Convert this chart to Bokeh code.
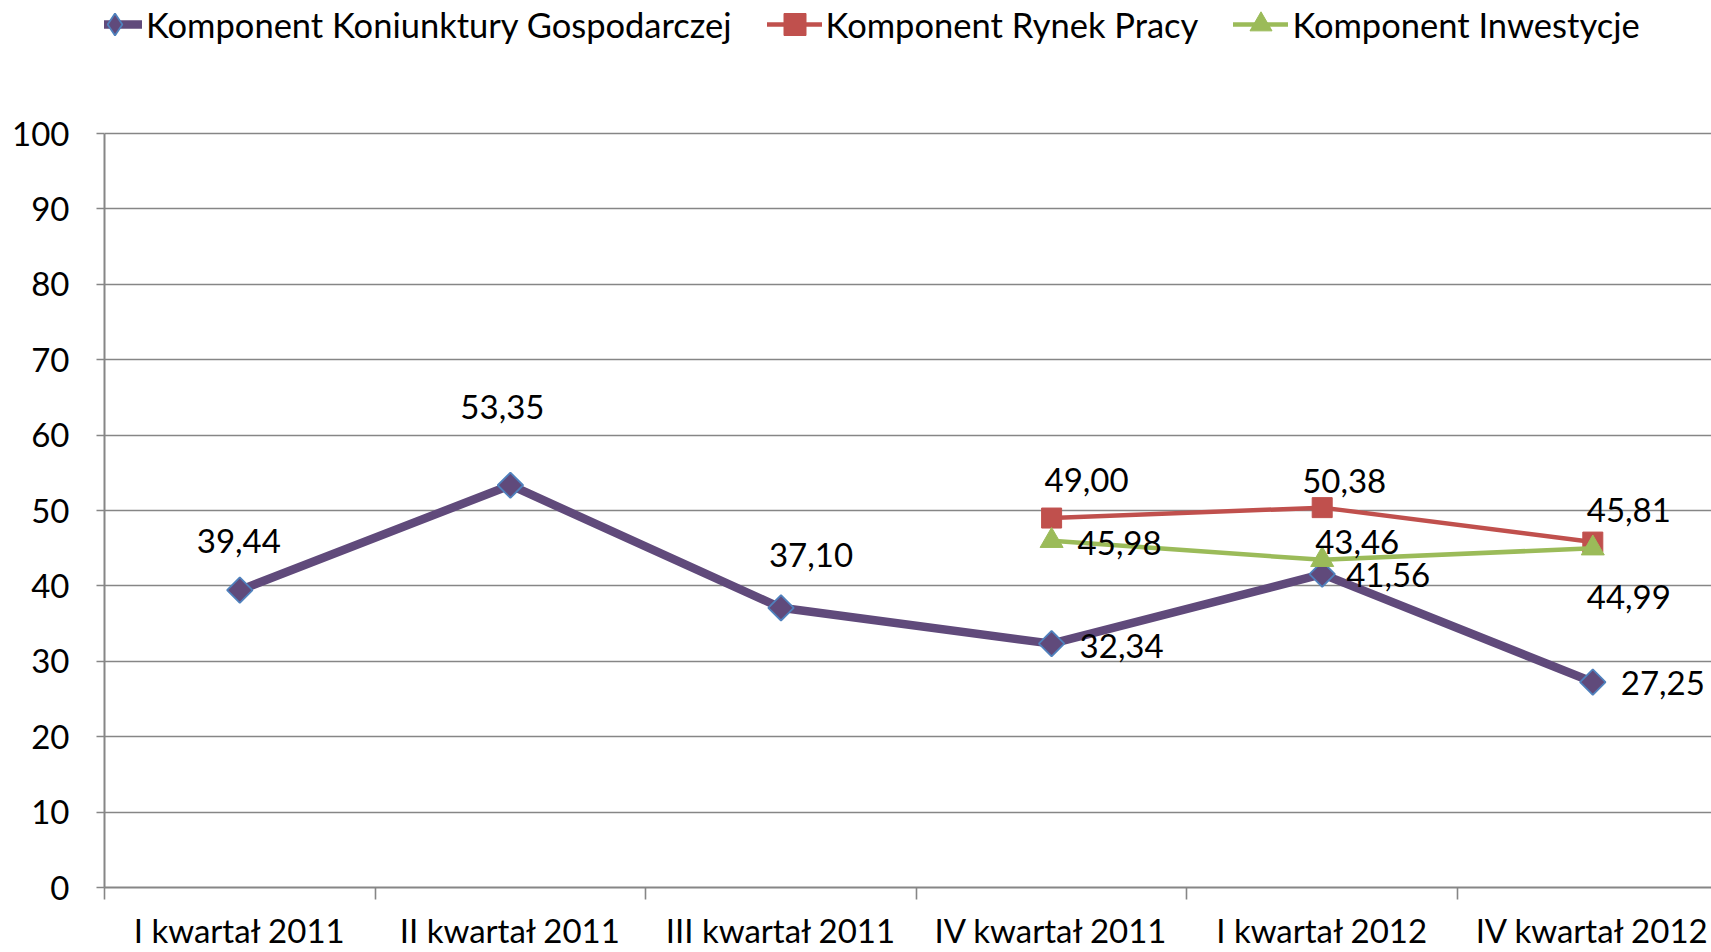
import math
from bokeh.plotting import figure
from bokeh.models import FixedTicker, Legend, LegendItem, ColumnDataSource
from bokeh.core.properties import value
from bokeh.embed import file_html
from bokeh.resources import INLINE

# ---- data ----
categories = ["I kwartał 2011", "II kwartał 2011", "III kwartał 2011",
              "IV kwartał 2011", "I kwartał 2012", "IV kwartał 2012"]
koniunktura = [39.44, 53.35, 37.10, 32.34, 41.56, 27.25]
rynek_pracy = [None, None, None, 49.00, 50.38, 45.81]
inwestycje = [None, None, None, 45.98, 43.46, 44.99]
series_names = ["Komponent Koniunktury Gospodarczej", "Komponent Rynek Pracy", "Komponent Inwestycje"]
y_ticks = [0, 10, 20, 30, 40, 50, 60, 70, 80, 90, 100]

# ---- styles ----
FONT = "Lato"
GRID = "#868686"
colors = ["#604A7B", "#C0504D", "#9BBB59"]
# label placement (screen px offsets from the point, alignment)
lab_k = dict(dx=[-1, -8, 30, 28, 24, 28], dy=[-49, -78, -53, 2, 1, 1],
             align=["center", "center", "center", "left", "left", "left"])
lab_r = dict(dx=[35, 22, 36], dy=[-38, -27, -32], align=["center", "center", "center"])
lab_i = dict(dx=[26, 35, 36], dy=[2, -18, 49], align=["left", "center", "center"])

xs = [i + 1 for i in range(len(categories))]

W, H = 1711, 952
BL, BB = 104, 65
FRAME_H = H - BB            # frame spans from the top of the page
Y_TOP_PX = 133              # pixel row of the 100 gridline
y_max = y_ticks[-1] * FRAME_H / (FRAME_H - Y_TOP_PX)

p = figure(width=W, height=H, x_range=(0.5, 0.5 + (W - BL) / 270.6), y_range=(0, y_max),
           output_backend="svg", toolbar_location=None,
           min_border_left=BL, min_border_right=0, min_border_top=0, min_border_bottom=BB)
p.outline_line_color = None
p.background_fill_color = "white"
p.border_fill_color = "white"
p.xgrid.grid_line_color = None
p.ygrid.grid_line_color = GRID
p.ygrid.grid_line_width = 1.6

# x axis
p.xaxis.ticker = FixedTicker(ticks=xs, minor_ticks=[0.5 + i for i in range(len(categories) + 1)])
p.xaxis.major_label_overrides = {x: c for x, c in zip(xs, categories)}
p.xaxis.major_tick_line_color = None
p.xaxis.major_tick_out = 0
p.xaxis.major_tick_in = 0
p.xaxis.minor_tick_line_color = GRID
p.xaxis.minor_tick_line_width = 1.6
p.xaxis.minor_tick_out = 12
p.xaxis.minor_tick_in = 0
p.xaxis.major_label_standoff = 10
p.xaxis.axis_line_color = GRID
p.xaxis.axis_line_width = 2
p.xaxis.major_label_text_font = FONT
p.xaxis.major_label_text_font_size = "33px"
p.xaxis.major_label_text_color = "black"

# y axis
p.yaxis.ticker = FixedTicker(ticks=y_ticks)
p.yaxis.bounds = (y_ticks[0], y_ticks[-1])
p.yaxis.major_tick_out = 8
p.yaxis.major_tick_in = 0
p.yaxis.major_tick_line_color = GRID
p.yaxis.major_tick_line_width = 1.6
p.yaxis.minor_tick_line_color = None
p.yaxis.major_label_standoff = 27
p.yaxis.axis_line_color = GRID
p.yaxis.axis_line_width = 2
p.yaxis.major_label_text_font = FONT
p.yaxis.major_label_text_font_size = "33px"
p.yaxis.major_label_text_color = "black"


def fmt(v):
    return f"{v:.2f}".replace(".", ",")


def series(vals, lab):
    pts = [(x, v) for x, v in zip(xs, vals) if v is not None]
    n = len(pts)
    return ColumnDataSource(dict(
        x=[q[0] for q in pts], y=[q[1] for q in pts],
        text=[fmt(q[1]) for q in pts],
        dx=lab["dx"][-n:], dy=lab["dy"][-n:], align=lab["align"][-n:]))


src_k = series(koniunktura, lab_k)
src_r = series(rynek_pracy, lab_r)
src_i = series(inwestycje, lab_i)

l1 = p.line("x", "y", source=src_k, line_color=colors[0], line_width=8.5, line_join="round", line_cap="round")
m1 = p.scatter("x", "y", source=src_k, marker="square", angle=math.pi / 4, size=18, fill_color=colors[0],
               line_color="#4F81BD", line_width=1.8)
# hidden twin used only for the legend swatch (narrow diamond as in the original legend)
m1_leg = p.scatter("x", "y", source=src_k, marker="diamond", size=26, fill_color=colors[0],
                   line_color="#4F81BD", line_width=1.8, visible=False)
l2 = p.line("x", "y", source=src_r, line_color=colors[1], line_width=4.5, line_join="round", line_cap="round")
m2 = p.scatter("x", "y", source=src_r, marker="square", size=20, fill_color=colors[1],
               line_color=colors[1], line_width=1)
l3 = p.line("x", "y", source=src_i, line_color=colors[2], line_width=4.5, line_join="round", line_cap="round")
m3 = p.scatter("x", "y", source=src_i, marker="triangle", size=23, fill_color=colors[2],
               line_color=colors[2], line_width=1)

for src in (src_k, src_r, src_i):
    p.text("x", "y", text="text", source=src, x_offset="dx", y_offset="dy",
           text_align="align", text_baseline="middle", text_font=value(FONT),
           text_font_size="33px", text_color="black")

legend = Legend(items=[LegendItem(label=series_names[0], renderers=[l1, m1_leg]),
                       LegendItem(label=series_names[1], renderers=[l2, m2]),
                       LegendItem(label=series_names[2], renderers=[l3, m3])],
                orientation="horizontal", location=(-17, 833), padding=0, margin=0,
                spacing=35, glyph_width=55, glyph_height=60, label_standoff=4,
                border_line_color=None, background_fill_alpha=0, inactive_fill_alpha=0,
                label_text_font=FONT, label_text_font_size="34.5px", label_text_color="black")
p.add_layout(legend, "center")

open("out.html", "w").write(file_html(p, INLINE))
